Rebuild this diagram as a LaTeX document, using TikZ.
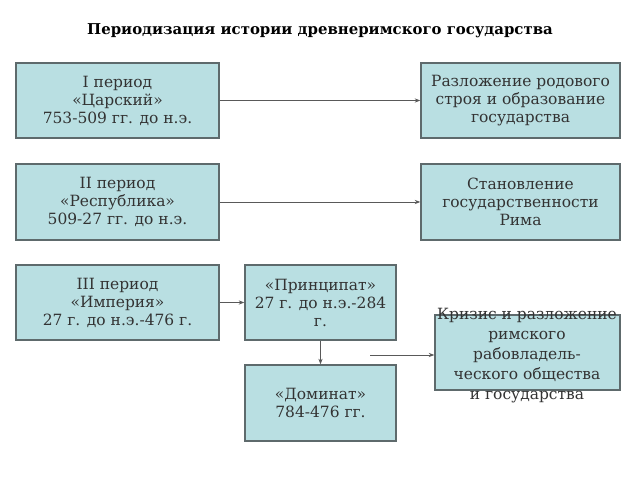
\documentclass[tikz,border=0pt]{standalone}
\usepackage{fontspec}
\setmainfont{DejaVu Serif}
\usetikzlibrary{arrows.meta,shadows}
\definecolor{boxfill}{HTML}{B9DFE2}
\definecolor{boxline}{HTML}{5E6A6C}
\definecolor{txt}{HTML}{333333}
\begin{document}
\begin{tikzpicture}[x=0.025cm, y=0.025cm, >={Stealth[length=4pt,width=3pt]},
  period/.style={draw=boxline, line width=0.9pt, fill=boxfill, align=center, text=txt,
    font=\fontsize{11}{12.8}\selectfont, inner sep=0pt,
    drop shadow={shadow xshift=0.6pt, shadow yshift=-0.6pt, fill=gray!50, opacity=1}},
  link/.style={->, draw=black!65, line width=0.7pt}]
\useasboundingbox (0,0) rectangle (640,480);

\node[font=\bfseries\fontsize{10.6}{12}\selectfont] (title) at (320,449) {Периодизация истории древнеримского государства};

\node[period, minimum width=5.075cm, minimum height=1.875cm] (p1) at (117.5,379.5)
  {I период\\«Царский»\\753-509 гг. до н.э.};
\node[period, minimum width=4.975cm, minimum height=1.875cm] (r1) at (520.5,379.5)
  {Разложение родового\\строя и образование\\государства};

\node[period, minimum width=5.075cm, minimum height=1.9cm] (p2) at (117.5,278)
  {II период\\«Республика»\\509-27 гг. до н.э.};
\node[period, minimum width=4.975cm, minimum height=1.9cm] (r2) at (520.5,278)
  {Становление\\государственности\\Рима};

\node[period, minimum width=5.075cm, minimum height=1.875cm] (p3) at (117.5,177.5)
  {III период\\«Империя»\\27 г. до н.э.-476 г.};
\node[period, minimum width=3.775cm, minimum height=1.875cm] (princ) at (320.5,177.5)
  {«Принципат»\\27 г. до н.э.-284\\г.};
\node[period, minimum width=3.775cm, minimum height=1.9cm] (dom) at (320.5,77)
  {«Доминат»\\784-476 гг.};

% text runs out of the box, as in the original
\node[period, minimum width=4.625cm, minimum height=1.875cm] (krizis) at (527.5,127.5) {};
\node[align=center, text=txt, font=\fontsize{11}{14.2}\selectfont, inner sep=0pt] (krizistext) at (527,124)
  {Кризис и разложение\\римского\\рабовладель-\\ческого общества\\и государства};

\draw[link] (p1) -- (r1);
\draw[link] (p2) -- (r2);
\draw[link] (p3) -- (princ);
\draw[link] (princ) -- (dom);

\coordinate (from) at (370,125);
\draw[link] (from) -- (krizis.west |- from);
\end{tikzpicture}
\end{document}
